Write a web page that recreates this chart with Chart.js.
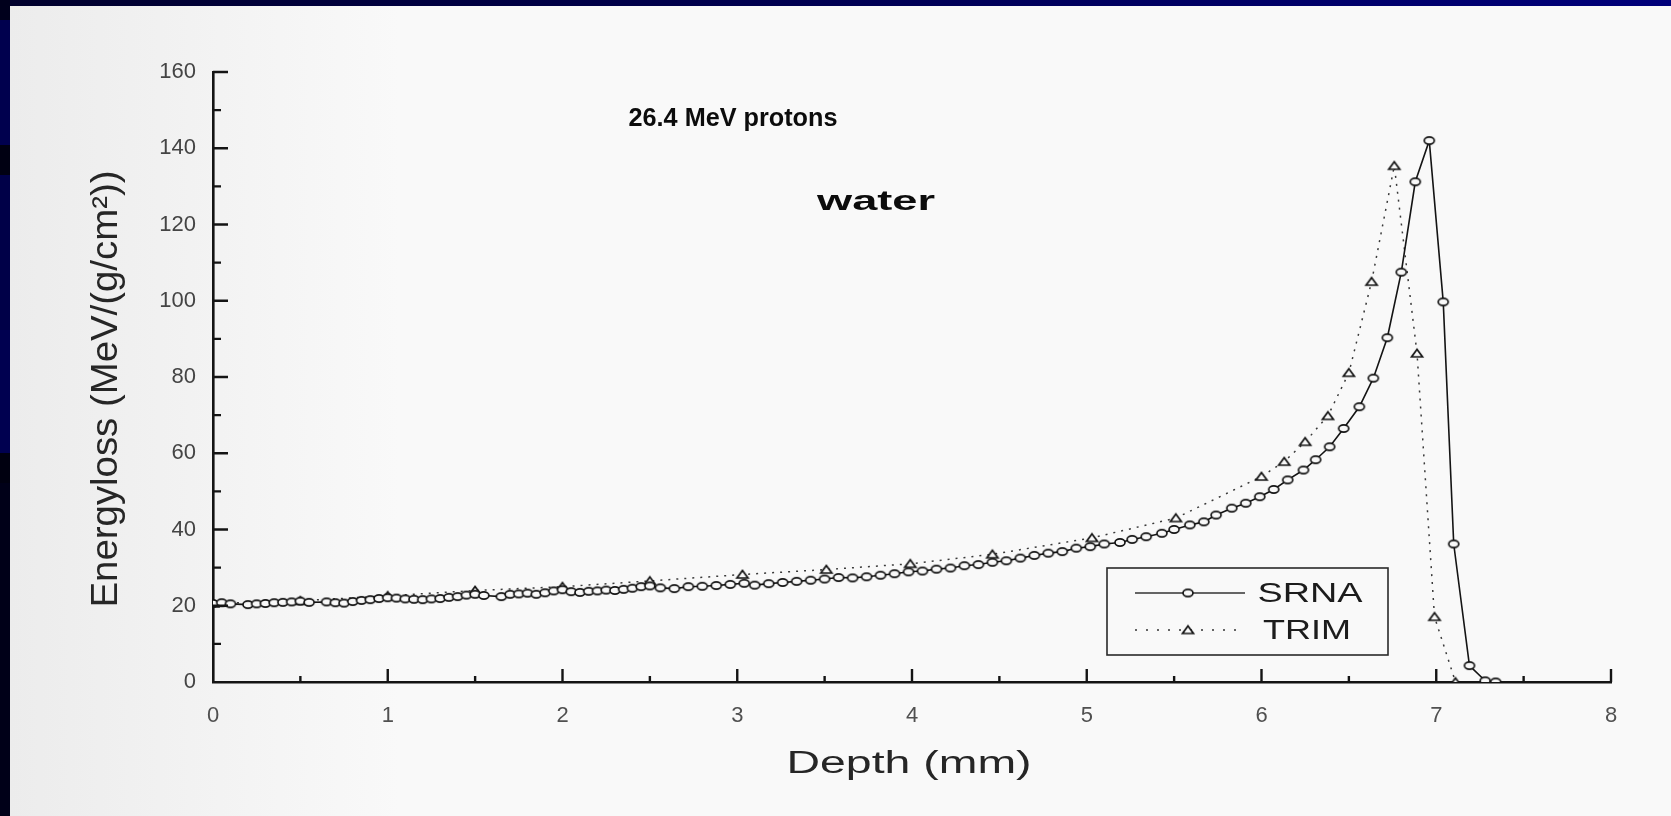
<!DOCTYPE html>
<html>
<head>
<meta charset="utf-8">
<title>26.4 MeV protons - water</title>
<script src="https://cdn.jsdelivr.net/npm/chart.js@4.4.1/dist/chart.umd.min.js"></script>
<style>
html, body { margin: 0; padding: 0; background: #00004a; overflow: hidden; }
#wrap { width: 1671px; height: 816px; }
</style>
</head>
<body>
<div id="wrap"><canvas id="lossChart" width="1671" height="816"></canvas></div>
<script>
// depth in mm, energy loss in MeV/(g/cm2)
var srnaDepth = [
  0, 0.05, 0.1, 0.2, 0.25, 0.3, 0.35, 0.4, 0.45, 0.5,
  0.55, 0.65, 0.7, 0.75, 0.8, 0.85, 0.9, 0.95, 1.0, 1.05,
  1.1, 1.15, 1.2, 1.25, 1.3, 1.35, 1.4, 1.45, 1.5, 1.55,
  1.65, 1.7, 1.75, 1.8, 1.85, 1.9, 1.95, 2.0, 2.05, 2.1,
  2.15, 2.2, 2.25, 2.3, 2.35, 2.4, 2.45, 2.5, 2.56, 2.64,
  2.72, 2.8, 2.88, 2.96, 3.04, 3.1, 3.18, 3.26, 3.34, 3.42,
  3.5, 3.58, 3.66, 3.74, 3.82, 3.9, 3.98, 4.06, 4.14, 4.22,
  4.3, 4.38, 4.46, 4.54, 4.62, 4.7, 4.78, 4.86, 4.94, 5.02,
  5.1, 5.19, 5.26, 5.34, 5.43, 5.5, 5.59, 5.67, 5.74, 5.83,
  5.91, 5.99, 6.07, 6.15, 6.24, 6.31, 6.39, 6.47, 6.56, 6.64,
  6.72, 6.8, 6.88, 6.96, 7.04, 7.1, 7.19, 7.28, 7.34
];
var srnaLoss = [
  20.6, 20.8, 20.5, 20.3, 20.5, 20.6, 20.8, 20.9, 21.0, 21.2,
  20.9, 21.0, 20.8, 20.7, 21.1, 21.4, 21.6, 21.9, 22.1, 22.0,
  21.8, 21.7, 21.6, 21.8, 21.9, 22.2, 22.4, 22.8, 23.0, 22.7,
  22.4, 23.0, 23.1, 23.3, 23.0, 23.4, 23.9, 24.2, 23.7, 23.5,
  23.8, 23.9, 24.1, 24.0, 24.3, 24.6, 25.0, 25.2, 24.7, 24.5,
  25.0, 25.1, 25.3, 25.6, 25.9, 25.4, 25.8, 26.1, 26.4, 26.7,
  27.0, 27.4, 27.3, 27.6, 28.0, 28.4, 28.9, 29.1, 29.6, 29.9,
  30.5, 30.8, 31.4, 31.8, 32.5, 33.2, 33.8, 34.2, 35.1, 35.5,
  36.2, 36.6, 37.4, 38.1, 39.0, 40.0, 41.2, 42.0, 43.8, 45.6,
  46.9, 48.6, 50.5, 53.0, 55.6, 58.3, 61.7, 66.5, 72.2, 79.7,
  90.3, 107.5, 131.2, 142.0, 99.7, 36.2, 4.3, 0.3, 0
];
var trimDepth = [0, 0.5, 1.0, 1.5, 2.0, 2.5, 3.03, 3.51, 3.99, 4.46, 5.03,
  5.51, 6.0, 6.13, 6.25, 6.38, 6.5, 6.63, 6.76, 6.89, 6.99, 7.11];
var trimLoss = [20.6, 21.3, 22.6, 24.0, 25.0, 26.5, 28.2, 29.5, 31.0, 33.5, 37.8,
  43.0, 53.9, 57.8, 63.0, 69.8, 81.1, 105.0, 135.4, 86.2, 17.1, 0];

var xTickLabels = [0, 1, 2, 3, 4, 5, 6, 7, 8];
var yTickLabels = [0, 20, 40, 60, 80, 100, 120, 140, 160];
var seriesNames = ["SRNA", "TRIM"];

var ink = "#141414";
var paper = "#f9f9f9";

function toPoints(xs, ys) {
  return xs.map(function (x, i) { return { x: x, y: ys[i] }; });
}

// small hollow markers like the scanned figure
function makeEllipse() {
  var c = document.createElement("canvas");
  c.width = 14; c.height = 11;
  var g = c.getContext("2d");
  g.lineWidth = 1.7;
  g.strokeStyle = ink;
  g.fillStyle = paper;
  g.beginPath();
  g.ellipse(7, 5.5, 5, 3.6, 0, 0, Math.PI * 2);
  g.fill();
  g.stroke();
  return c;
}
function makeTriangle() {
  var c = document.createElement("canvas");
  c.width = 16; c.height = 13;
  var g = c.getContext("2d");
  g.lineWidth = 1.7;
  g.strokeStyle = ink;
  g.fillStyle = paper;
  g.beginPath();
  g.moveTo(8, 2.5);
  g.lineTo(13.5, 10);
  g.lineTo(2.5, 10);
  g.closePath();
  g.fill();
  g.stroke();
  return c;
}
var circleMark = makeEllipse();
var triMark = makeTriangle();

function fitText(ctx, str, cx, cy, font, width, rot) {
  ctx.save();
  ctx.font = font;
  var m = ctx.measureText(str).width;
  ctx.translate(cx, cy);
  if (rot) ctx.rotate(rot);
  ctx.scale(width / m, 1);
  ctx.textAlign = "center";
  ctx.textBaseline = "middle";
  ctx.fillText(str, 0, 0);
  ctx.restore();
}

var pagePlugin = {
  id: "page",
  beforeDraw: function (chart) {
    var ctx = chart.ctx;
    ctx.save();
    var top = ctx.createLinearGradient(0, 0, 1671, 0);
    top.addColorStop(0, "#00002c");
    top.addColorStop(1, "#00007a");
    ctx.fillStyle = top;
    ctx.fillRect(0, 0, 1671, 816);
    // left strip bands
    var bands = [[0, 20, "#00001c"], [20, 145, "#00004e"], [145, 175, "#000012"],
      [175, 330, "#000048"], [330, 453, "#000050"], [453, 483, "#000010"], [483, 816, "#000018"]];
    bands.forEach(function (b) {
      ctx.fillStyle = b[2];
      ctx.fillRect(0, b[0], 10, b[1] - b[0]);
    });
    var bg = ctx.createLinearGradient(10, 0, 400, 0);
    bg.addColorStop(0, "#ececec");
    bg.addColorStop(1, paper);
    ctx.fillStyle = bg;
    ctx.fillRect(10, 6, 1661, 810);
    ctx.restore();
  },
  afterDraw: function (chart) {
    var ctx = chart.ctx;
    var xs = chart.scales.x, ys = chart.scales.y;
    ctx.save();
    ctx.strokeStyle = ink;
    ctx.lineWidth = 2.4;
    ctx.beginPath();
    xTickLabels.forEach(function (v, i) {
      var px = xs.getPixelForValue(v);
      if (i > 0) {
        ctx.moveTo(px, ys.bottom); ctx.lineTo(px, ys.bottom - 13);
        var mid = xs.getPixelForValue((v + xTickLabels[i - 1]) / 2);
        ctx.moveTo(mid, ys.bottom); ctx.lineTo(mid, ys.bottom - 6);
      }
    });
    yTickLabels.forEach(function (v, i) {
      var py = ys.getPixelForValue(v);
      if (i > 0) {
        ctx.moveTo(xs.left, py); ctx.lineTo(xs.left + 15, py);
        var mid = ys.getPixelForValue((v + yTickLabels[i - 1]) / 2);
        ctx.moveTo(xs.left, mid); ctx.lineTo(xs.left + 8, mid);
      }
    });
    ctx.stroke();

    // titles
    ctx.fillStyle = "#0c0c0c";
    fitText(ctx, "26.4 MeV protons", 733, 119, "bold 25px 'Liberation Sans'", 209);
    fitText(ctx, "water", 876, 202, "bold 28px 'Liberation Sans'", 118);
    ctx.fillStyle = "#262626";
    fitText(ctx, "Depth (mm)", 909, 764, "31px 'Liberation Sans'", 245);
    fitText(ctx, "Energyloss (MeV/(g/cm\u00b2))", 107, 389, "36px 'Liberation Sans'", 437, -Math.PI / 2);

    // legend box
    ctx.lineWidth = 1.6;
    ctx.strokeStyle = "#2a2a2a";
    ctx.strokeRect(1107, 568, 281, 87);
    ctx.lineWidth = 1.3;
    ctx.strokeStyle = "#333";
    ctx.beginPath();
    ctx.moveTo(1135, 593); ctx.lineTo(1245, 593);
    ctx.stroke();
    ctx.setLineDash([2, 9]);
    ctx.beginPath();
    ctx.moveTo(1135, 630); ctx.lineTo(1245, 630);
    ctx.stroke();
    ctx.setLineDash([]);
    ctx.drawImage(circleMark, 1188 - 7, 593 - 5.5);
    ctx.drawImage(triMark, 1188 - 8, 630 - 6.5);
    ctx.fillStyle = "#1c1c1c";
    fitText(ctx, seriesNames[0], 1310, 594, "28px 'Liberation Sans'", 105);
    fitText(ctx, seriesNames[1], 1307, 631, "28px 'Liberation Sans'", 88);
    ctx.restore();
  }
};

var ctx = document.getElementById("lossChart");

var lossChart = new Chart(ctx, {
  type: "scatter",
  data: {
    datasets: [{
      label: seriesNames[0],
      data: toPoints(srnaDepth, srnaLoss),
      showLine: true,
      borderColor: ink,
      borderWidth: 1.6,
      lineTension: 0,
      pointStyle: circleMark,
      pointRadius: 5
    }, {
      label: seriesNames[1],
      data: toPoints(trimDepth, trimLoss),
      showLine: true,
      borderColor: "#3a3a3a",
      borderWidth: 1.5,
      borderDash: [2, 6],
      lineTension: 0,
      pointStyle: triMark,
      pointRadius: 5
    }]
  },
  options: {
    responsive: false,
    animation: false,
    devicePixelRatio: 1,
    layout: { padding: { top: 72, right: 60, left: 0, bottom: 0 } },
    plugins: {
      legend: { display: false },
      tooltip: { enabled: false }
    },
    scales: {
      x: {
        type: "linear",
        min: 0,
        max: 8,
        afterFit: function (s) { s.height = 134; },
        afterBuildTicks: function (s) { s.ticks = xTickLabels.map(function (v) { return { value: v }; }); },
        grid: { display: false, drawTicks: false, tickLength: 0 },
        border: { display: true, color: ink, width: 2.6 },
        ticks: { padding: 21, color: "#505050", font: { family: "'Liberation Sans'", size: 22 } }
      },
      y: {
        type: "linear",
        min: 0,
        max: 160,
        afterFit: function (s) { s.width = 213; },
        afterBuildTicks: function (s) { s.ticks = yTickLabels.map(function (v) { return { value: v }; }); },
        grid: { display: false, drawTicks: false, tickLength: 0 },
        border: { display: true, color: ink, width: 2.6 },
        ticks: { padding: 17, color: "#444444", font: { family: "'Liberation Sans'", size: 22 } }
      }
    }
  },
  plugins: [pagePlugin]
});
</script>
</body>
</html>
